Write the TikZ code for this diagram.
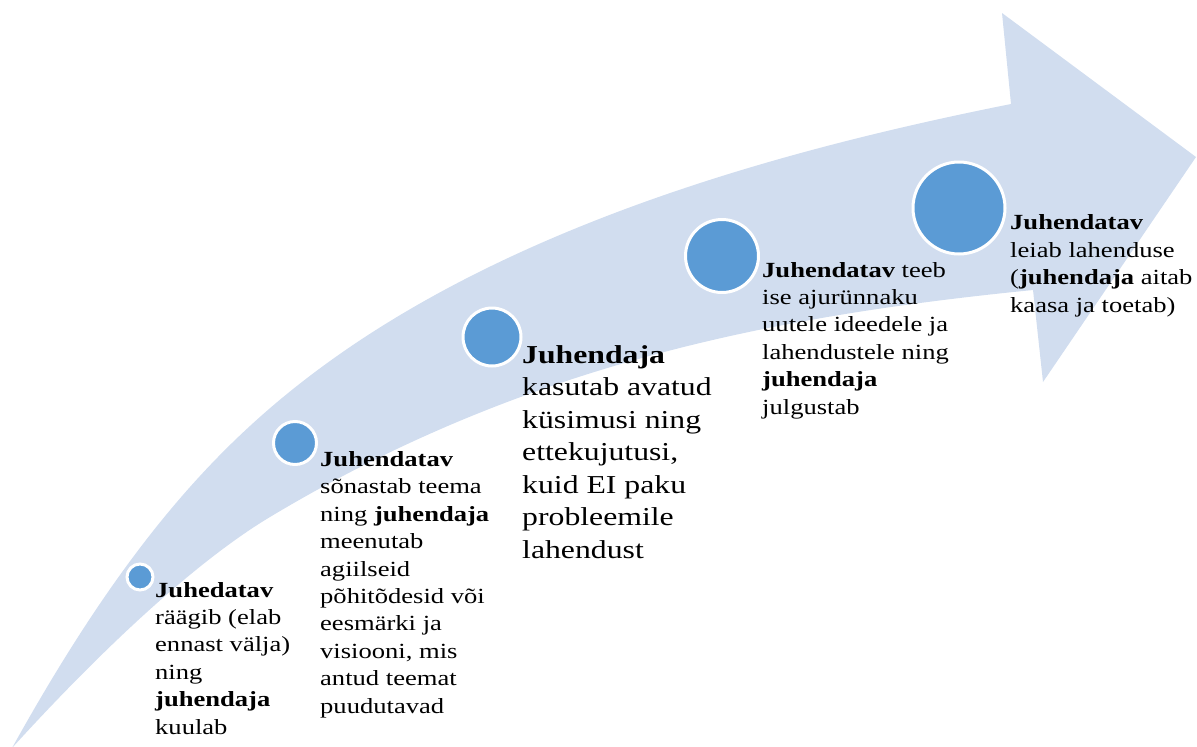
\documentclass[tikz,border=0pt]{standalone}
\usepackage{fontspec}
\setmainfont{Liberation Serif}[FakeStretch=1.23]
\definecolor{bandblue}{RGB}{209,221,239}
\definecolor{stepblue}{RGB}{91,155,213}
\begin{document}
\begin{tikzpicture}[x=1pt,y=-1pt,
  stage/.style={circle,fill=stepblue,draw=white,line width=3pt,inner sep=0pt},
  note/.style={anchor=base west,inner sep=0pt,align=left,
    font=\fontsize{21.6}{27.4}\selectfont},
  bignote/.style={anchor=base west,inner sep=0pt,align=left,
    font=\fontsize{25.8}{32.5}\selectfont}]
\useasboundingbox (0,0) rectangle (1197,747);

% curved arrow band: lower edge, head, upper edge back to the tail
\fill[bandblue]
  (12,748) .. controls (92,660) and (190,565) .. (270,517)
           .. controls (530,361) and (783,315) .. (1033,290)
  -- (1043,382) -- (1196,157) -- (1002,13) -- (1011,104)
           .. controls (811,144) and (550,211) .. (350,347)
           .. controls (230,429) and (132,532) .. (12,748)
  -- cycle;

% stage markers
\node[stage,minimum size=26pt] (s1) at (140,577) {};
\node[stage,minimum size=43pt] (s2) at (295,443) {};
\node[stage,minimum size=58pt] (s3) at (492,337) {};
\node[stage,minimum size=73pt] (s4) at (722,256) {};
\node[stage,minimum size=92pt] (s5) at (959,208) {};

% stage descriptions (anchored at the baseline of the last line)
\node[note] (t1) at (155,734) {\textbf{Juhedatav}\\räägib (elab\\ennast välja)\\ning\\\textbf{juhendaja}\\kuulab};
\node[note] (t2) at (320,713) {\textbf{Juhendatav}\\sõnastab teema\\ning \textbf{juhendaja}\\meenutab\\agiilseid\\põhitõdesid või\\eesmärki ja\\visiooni, mis\\antud teemat\\puudutavad};
\node[bignote] (t3) at (522,558) {\textbf{Juhendaja}\\kasutab avatud\\küsimusi ning\\ettekujutusi,\\kuid EI paku\\probleemile\\lahendust};
\node[note] (t4) at (762,414) {\textbf{Juhendatav} teeb\\ise ajurünnaku\\uutele ideedele ja\\lahendustele ning\\\textbf{juhendaja}\\julgustab};
\node[note] (t5) at (1010,312) {\textbf{Juhendatav}\\leiab lahenduse\\(\textbf{juhendaja} aitab\\kaasa ja toetab)};
\end{tikzpicture}
\end{document}
